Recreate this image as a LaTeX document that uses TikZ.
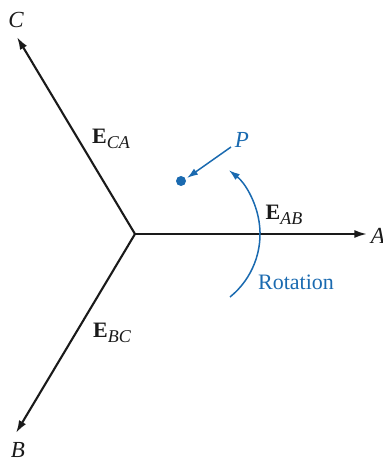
\documentclass[tikz,border=0pt]{standalone}
\usepackage{fontspec}
\setmainfont{Liberation Serif}
\definecolor{PhBlue}{HTML}{1A6AB0}
\definecolor{PhBlack}{HTML}{1A1A1A}
\usetikzlibrary{positioning,arrows.meta}
\newcommand{\Evec}[1]{\textbf{E}\raisebox{-0.45ex}{\fontsize{9}{10}\selectfont\itshape #1}}

\begin{document}
\begin{tikzpicture}[x=0.5pt, y=-0.5pt, font=\fontsize{11}{13}\selectfont,
    phasor/.style={draw=PhBlack, line width=1.05pt, -{Latex[length=6.3pt,width=4pt]}},
    bluearrow/.style={draw=PhBlue, line width=0.75pt, -{Latex[length=5.5pt,width=3.6pt]}},
    lbl/.style={inner sep=1pt, text=PhBlack}]
  \useasboundingbox (0,0) rectangle (383,460);
  % phasors
  \coordinate (O) at (135,234);
  \coordinate (tipA) at (367,234);
  \coordinate (tipB) at (16,433);
  \coordinate (tipC) at (17,37);
  \draw[phasor] (O) -- (tipA);
  \draw[phasor] (O) -- (tipB);
  \draw[phasor] (O) -- (tipC);
  \node[lbl, font=\fontsize{11.5}{13}\selectfont\itshape] (labA) at (378,236) {A};
  \node[lbl, font=\fontsize{11.5}{13}\selectfont\itshape] (labB) at (18,450) {B};
  \node[lbl, font=\fontsize{11.5}{13}\selectfont\itshape] (labC) at (16,20) {C};
  \node[lbl] (eCA) at (111,139) {\Evec{CA}};
  \node[lbl] (eAB) at (284,215) {\Evec{AB}};
  \node[lbl] (eBC) at (112,333) {\Evec{BC}};
  % point P
  \fill[PhBlue] (181,181) circle (2.5pt) coordinate (dotP);
  \node[text=PhBlue, font=\fontsize{11.5}{13}\selectfont\itshape, inner sep=1pt] (P) at (242,140) {P};
  \coordinate (Pstart) at (231,147);
  \draw[bluearrow] (Pstart) -- (187,178);
  % rotation
  \coordinate (rotS) at (230,297);
  \draw[bluearrow] (rotS) arc[start angle=51, end angle=-52, radius=81];
  \node[text=PhBlue, inner sep=1pt] (rot) at (296,282) {Rotation};
\end{tikzpicture}
\end{document}
